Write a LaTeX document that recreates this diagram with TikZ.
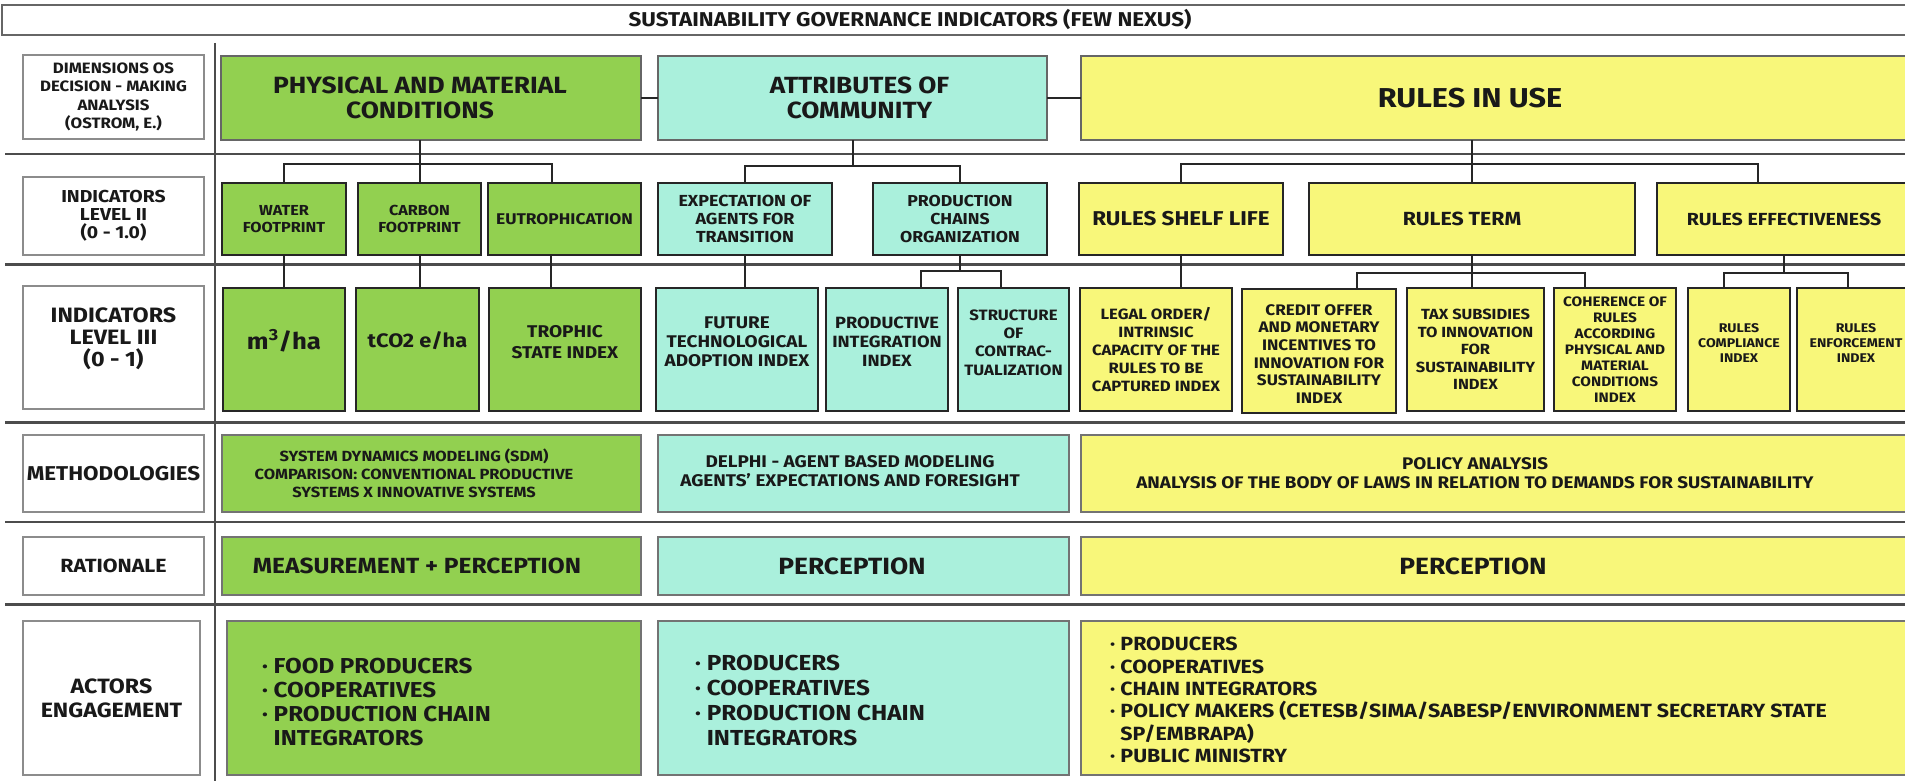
\documentclass[tikz,border=0pt]{standalone}
\usepackage{fontspec}
\setmainfont{Fira Sans}[FakeStretch=1.12]
\definecolor{gr}{RGB}{146,208,80}
\definecolor{mn}{RGB}{170,240,220}
\definecolor{yl}{RGB}{248,247,122}
\newcommand\fz[2]{\fontsize{#1}{#2}\selectfont\bfseries}
% box: #1 name, #2 style, #3 x1, #4 y1, #5 x2, #6 y2, #7 text options, #8 text
\newcommand\bx[8]{%
  \node[#2, minimum width={(#5)-(#3)}, minimum height={(#6)-(#4)}, anchor=north west] (#1) at (#3,#4) {};
  \node[txt, #7] (#1t) at (#1.center) {#8};}
\begin{document}
\begin{tikzpicture}[x=1pt,y=-1pt,
  base/.style={rectangle, inner sep=0pt, outer sep=0pt},
  topb/.style={base, draw=black!60, line width=1.3pt},
  ind/.style={base, draw=black!85, line width=2pt},
  low/.style={base, draw=black!55, line width=1.5pt},
  lab/.style={base, draw=black!45, fill=white, line width=1.3pt},
  sep/.style={draw=black!70, line width=2.5pt},
  conn/.style={draw=black!85, line width=2pt},
  txt/.style={align=center, inner sep=0pt, text=black!90}]
\useasboundingbox (0,0) rectangle (1905,781);
\clip (0,0) rectangle (1905,781);
\fill[white] (0,0) rectangle (1905,781);

% separators
\draw[sep] (5,154) -- (1905,154);
\draw[sep] (5,264.5) -- (1905,264.5);
\draw[sep] (5,422.5) -- (1905,422.5);
\draw[sep] (5,522) -- (1905,522);
\draw[sep] (5,604.5) -- (1905,604.5);
\draw[sep] (215,43) -- (215,781);

% title
\bx{title}{topb}{2}{5}{1925}{35}{font=\fz{20}{22}, xshift=-53.5pt}{SUSTAINABILITY GOVERNANCE INDICATORS (FEW NEXUS)}

% row 1
\bx{dim}{lab}{23}{55}{204}{139}{font=\fz{15}{18.3}}{DIMENSIONS OS\\DECISION - MAKING\\ANALYSIS\\(OSTROM, E.)}
\bx{phys}{topb, fill=gr}{221}{56}{641}{140}{font=\fz{23.5}{25.5}, xshift=-11pt}{PHYSICAL AND MATERIAL\\CONDITIONS}
\bx{attr}{topb, fill=mn}{658}{56}{1047}{140}{font=\fz{23.4}{25.5}, xshift=7pt}{ATTRIBUTES OF\\COMMUNITY}
\bx{rinuse}{topb, fill=yl}{1081}{56}{1925}{140}{font=\fz{27.3}{30}, xshift=-33pt}{RULES IN USE}

% row 2
\bx{lvtwo}{lab}{23}{177}{204}{255}{font=\fz{17.3}{18}}{INDICATORS\\LEVEL II\\(0 - 1.0)}
\bx{water}{ind, fill=gr}{222}{183}{346}{255}{font=\fz{14.5}{16.5}}{WATER\\FOOTPRINT}
\bx{carbon}{ind, fill=gr}{358}{183}{481}{255}{font=\fz{14.5}{16.5}}{CARBON\\FOOTPRINT}
\bx{eutro}{ind, fill=gr}{488}{183}{641}{255}{font=\fz{15.5}{16.5}}{EUTROPHICATION}
\bx{expec}{ind, fill=mn}{658}{183}{832}{255}{font=\fz{16}{18.3}}{EXPECTATION OF\\AGENTS FOR\\TRANSITION}
\bx{pchain}{ind, fill=mn}{873}{183}{1047}{255}{font=\fz{15.8}{18.3}}{PRODUCTION\\CHAINS\\ORGANIZATION}
\bx{shelf}{ind, fill=yl}{1079}{183}{1283}{255}{font=\fz{20}{22}}{RULES SHELF LIFE}
\bx{rterm}{ind, fill=yl}{1309}{183}{1635}{255}{font=\fz{19}{22}, xshift=-10pt}{RULES TERM}
\bx{reff}{ind, fill=yl}{1657}{183}{1925}{255}{font=\fz{17.5}{20}, xshift=-7pt}{RULES EFFECTIVENESS}

% row 3
\bx{lvthree}{lab}{23}{286}{204}{409}{font=\fz{20.8}{22}, yshift=8.5pt}{INDICATORS\\LEVEL III\\(0 - 1)}
\bx{mth}{ind, fill=gr}{223}{288}{345}{411}{font=\fz{23}{28}, yshift=8.5pt}{m\textsuperscript{3}/ha}
\bx{tco}{ind, fill=gr}{356}{288}{479}{411}{font=\fz{19.5}{22}, yshift=8.5pt}{tCO2 e/ha}
\bx{troph}{ind, fill=gr}{489}{288}{641}{411}{font=\fz{17}{21}, yshift=7pt}{TROPHIC\\STATE INDEX}
\bx{future}{ind, fill=mn}{656}{288}{818}{411}{font=\fz{16.9}{19}, yshift=7.5pt}{FUTURE\\TECHNOLOGICAL\\ADOPTION INDEX}
\bx{prodint}{ind, fill=mn}{826}{288}{948}{411}{font=\fz{16.3}{19}, yshift=7.5pt}{PRODUCTIVE\\INTEGRATION\\INDEX}
\bx{struct}{ind, fill=mn}{958}{288}{1069}{411}{font=\fz{15}{18.3}, yshift=7pt}{STRUCTURE\\OF\\CONTRAC-\\TUALIZATION}
\bx{legal}{ind, fill=yl}{1080}{288}{1232}{411}{font=\fz{14.9}{17.8}}{LEGAL ORDER/\\INTRINSIC\\CAPACITY OF THE\\RULES TO BE\\CAPTURED INDEX}
\bx{credit}{ind, fill=yl}{1242}{289}{1396}{413}{font=\fz{15.3}{17.7}, yshift=-3pt}{CREDIT OFFER\\AND MONETARY\\INCENTIVES TO\\INNOVATION FOR\\SUSTAINABILITY\\INDEX}
\bx{tax}{ind, fill=yl}{1407}{288}{1544}{411}{font=\fz{14.7}{17.5}}{TAX SUBSIDIES\\TO INNOVATION\\FOR\\SUSTAINABILITY\\INDEX}
\bx{coher}{ind, fill=yl}{1554}{288}{1676}{411}{font=\fz{13.7}{16}}{COHERENCE OF\\RULES\\ACCORDING\\PHYSICAL AND\\MATERIAL\\CONDITIONS\\INDEX}
\bx{compl}{ind, fill=yl}{1688}{288}{1790}{411}{font=\fz{12.6}{15}, yshift=6.5pt}{RULES\\COMPLIANCE\\INDEX}
\bx{enfor}{ind, fill=yl}{1797}{288}{1925}{411}{font=\fz{12.6}{15}, yshift=6.5pt, xshift=-5pt}{RULES\\ENFORCEMENT\\INDEX}

% row 4
\bx{meth}{lab}{23}{435}{204}{512}{font=\fz{20}{22}}{METHODOLOGIES}
\bx{methA}{low, fill=gr}{222}{435}{641}{512}{font=\fz{14.7}{18.3}, xshift=-17.5pt}{SYSTEM DYNAMICS MODELING (SDM)\\COMPARISON: CONVENTIONAL PRODUCTIVE\\SYSTEMS X INNOVATIVE SYSTEMS}
\bx{methB}{low, fill=mn}{658}{435}{1069}{512}{font=\fz{16.9}{19}, xshift=-13.5pt, yshift=2pt}{DELPHI - AGENT BASED MODELING\\AGENTS' EXPECTATIONS AND FORESIGHT}
\bx{methC}{low, fill=yl}{1081}{435}{1925}{512}{font=\fz{16.8}{19.3}, xshift=-28pt}{POLICY ANALYSIS\\ANALYSIS OF THE BODY OF LAWS IN RELATION TO DEMANDS FOR SUSTAINABILITY}

% row 5
\bx{rat}{lab}{23}{537}{204}{595}{font=\fz{19.1}{22}}{RATIONALE}
\bx{ratA}{low, fill=gr}{222}{537}{641}{595}{font=\fz{21.9}{24}, xshift=-14.5pt}{MEASUREMENT + PERCEPTION}
\bx{ratB}{low, fill=mn}{658}{537}{1069}{595}{font=\fz{23.5}{24}, xshift=-11.5pt}{PERCEPTION}
\bx{ratC}{low, fill=yl}{1081}{537}{1925}{595}{font=\fz{23.5}{24}, xshift=-30pt}{PERCEPTION}

% row 6
\bx{act}{lab}{23}{621}{200}{775}{font=\fz{20.7}{24}}{ACTORS\\ENGAGEMENT}
\bx{actA}{low, fill=gr}{227}{621}{641}{775}{font=\fz{21.6}{24}, align=left, anchor=west, xshift=-172pt, yshift=-4pt}{·~FOOD PRODUCERS\\·~COOPERATIVES\\·~PRODUCTION CHAIN\\\phantom{·~}INTEGRATORS}
\bx{actB}{low, fill=mn}{658}{621}{1069}{775}{font=\fz{21.7}{25}, align=left, anchor=west, xshift=-168.5pt, yshift=-2pt}{·~PRODUCERS\\·~COOPERATIVES\\·~PRODUCTION CHAIN\\\phantom{·~}INTEGRATORS}
\bx{actC}{low, fill=yl}{1081}{621}{1925}{775}{font=\fz{19.1}{22.3}, align=left, anchor=west, xshift=-393pt, yshift=-2pt}{·~PRODUCERS\\·~COOPERATIVES\\·~CHAIN INTEGRATORS\\·~POLICY MAKERS (CETESB/SIMA/SABESP/ENVIRONMENT SECRETARY STATE\\\phantom{·~}SP/EMBRAPA)\\·~PUBLIC MINISTRY}

% connectors row 1
\draw[conn] (phys.east) -- (attr.west);
\draw[conn] (attr.east) -- (rinuse.west);
% trees row1 -> row2
\draw[conn] (phys.south -| carbon.north) -- (carbon.north);
\draw[conn] (water.north) -- ++(0,-19) -| ([xshift=-13pt]eutro.north);
\draw[conn] (attr.south) -- ++(0,26);
\draw[conn] (expec.north) -- ++(0,-17) -| (pchain.north);
\draw[conn] (rinuse.south -| rterm.north) -- (rterm.north);
\draw[conn] (shelf.north) -- ++(0,-19) -| ([xshift=-33pt]reff.north);
% row2 -> row3
\draw[conn] (water.south) -- (water.south |- mth.north);
\draw[conn] (carbon.south) -- (carbon.south |- tco.north);
\draw[conn] ([xshift=-14pt]eutro.south) -- ([xshift=-14pt]eutro.south |- troph.north);
\draw[conn] (expec.south) -- (expec.south |- future.north);
\draw[conn] (pchain.south) -- ++(0,16);
\draw[conn] ([xshift=34pt]prodint.north) -- ++(0,-17) -| ([xshift=-13pt]struct.north);
\draw[conn] (shelf.south) -- (shelf.south |- legal.north);
\draw[conn] (rterm.south) -- (rterm.south |- tax.north);
\draw[conn] ([xshift=38pt]credit.north) -- ++(0,-16) -| ([xshift=-30pt]coher.north);
\draw[conn] ([xshift=-7.5pt]reff.south) -- ++(0,18);
\draw[conn] ([xshift=-15pt]compl.north) -- ++(0,-15) -| ([xshift=-13pt]enfor.north);
\end{tikzpicture}
\end{document}
